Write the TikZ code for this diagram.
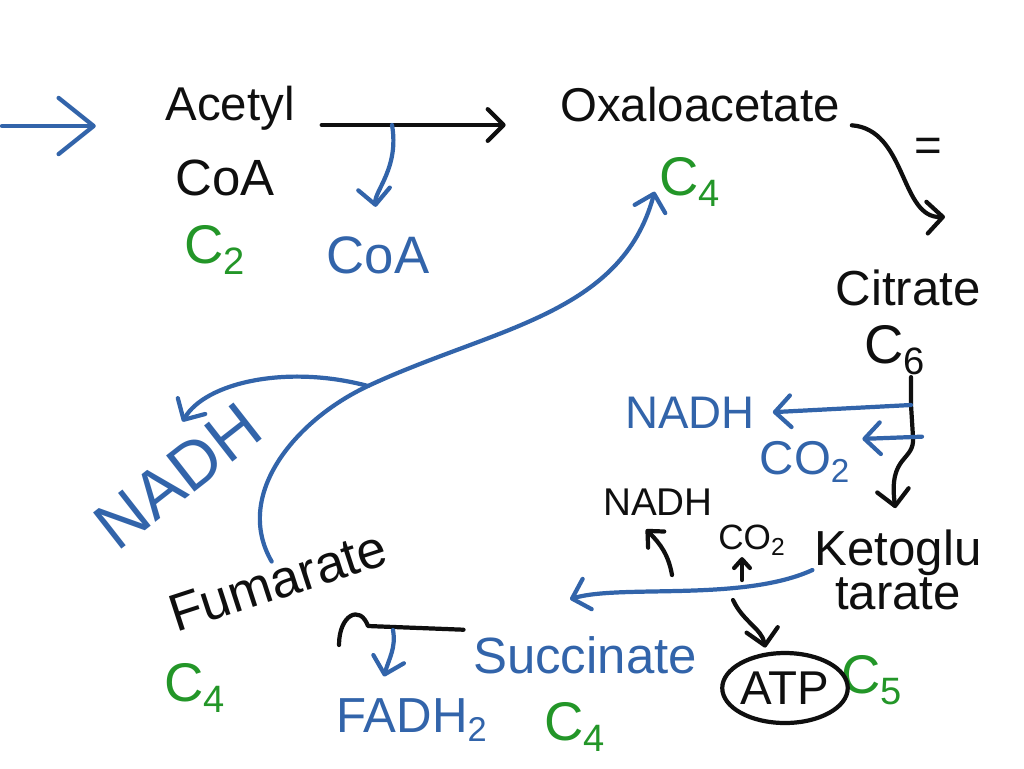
\documentclass[tikz,border=0pt]{standalone}
\usepackage{fontspec}
\setmainfont{Liberation Sans}
\usepackage{tikz}
\usetikzlibrary{arrows.meta, positioning, calc, shapes.geometric}
\definecolor{inkblue}{RGB}{50,100,170}
\definecolor{inkgreen}{RGB}{35,150,40}
\definecolor{inkdark}{RGB}{15,15,15}
\tikzset{
  mol/.style={font=\fontsize{27}{32}\selectfont, text=inkdark, inner sep=1pt},
  bluemol/.style={mol, text=inkblue},
  smallmol/.style={font=\fontsize{20}{24}\selectfont, text=inkdark, inner sep=1pt},
  carbon/.style={font=\fontsize{31}{34}\selectfont, text=inkgreen, inner sep=1pt},
  arrow/.style={-{Straight Barb[length=9pt, width=18pt, round]}, line width=2.4pt,
    color=inkdark, line cap=round, line join=round},
  bluearrow/.style={arrow, color=inkblue},
  smalltip/.style={-{Straight Barb[length=5pt, width=9pt, round]}},
  line/.style={line width=2.4pt, color=inkdark, line cap=round, line join=round}
}
\begin{document}
\begin{tikzpicture}[x=0.02cm, y=-0.02cm]
  \fill[white] (0,0) rectangle (1024,768);
  \useasboundingbox (0,0) rectangle (1024,768);

  % Molecules
  \node[mol, font=\fontsize{27}{30}\selectfont] (acetyl) at (230,108) {Acetyl};
  \node[mol, font=\fontsize{29}{32}\selectfont] (acoa) at (225,178) {CoA};
  \node[carbon] (ctwo) at (215,250) {C\textsubscript{2}};
  \node[bluemol, font=\fontsize{30}{32}\selectfont] (coa) at (378,255) {CoA};
  \node[mol] (oxalo) at (700,105) {Oxaloacetate};
  \node[carbon] (cfourA) at (690,182) {C\textsubscript{4}};
  \node[mol] (eq) at (928,150) {=};
  \node[mol, font=\fontsize{28}{32}\selectfont] (citrate) at (908,288) {Citrate};
  \node[carbon, text=inkdark] (csix) at (895,350) {C\textsubscript{6}};
  \node[bluemol, font=\fontsize{26}{30}\selectfont] (nadhA) at (690,413) {NADH};
  \node[bluemol] (cotwoA) at (805,462) {CO\textsubscript{2}};
  \node[mol, font=\fontsize{28}{22}\selectfont, align=center] (keto) at (898,570) {Ketoglu\\tarate};
  \node[carbon] (cfive) at (872,680) {C\textsubscript{5}};
  \node[mol, ellipse, draw=inkdark, line width=2.4pt, inner sep=0pt,
    minimum width=2.44cm, minimum height=1.4cm] (atp) at (785,688) {ATP};
  \node[smallmol, font=\fontsize{22}{24}\selectfont] (nadhB) at (658,502) {NADH};
  \node[smallmol] (cotwoB) at (752,540) {CO\textsubscript{2}};
  \node[bluemol, font=\fontsize{29}{32}\selectfont] (succ) at (585,655) {Succinate};
  \node[carbon] (cfourC) at (575,727) {C\textsubscript{4}};
  \node[bluemol, font=\fontsize{28}{32}\selectfont] (fadh) at (412,720) {FADH\textsubscript{2}};
  \node[mol, font=\fontsize{30}{34}\selectfont, rotate=18] (fum) at (278,581) {Fumarate};
  \node[carbon] (cfourB) at (195,688) {C\textsubscript{4}};
  \node[bluemol, font=\fontsize{38}{40}\selectfont, rotate=38] (nadhC) at (178,476) {NADH};

  % Entry and Acetyl CoA
  \coordinate (entry) at (2,126);
  \draw[bluearrow, -{Straight Barb[length=20pt, width=32pt, round]}, shorten >=1.35cm]
    (entry) -- (entry -| acetyl.west);
  \coordinate (jcoa) at (392,125);
  \draw[arrow, shorten <=0.5cm, shorten >=1.05cm] (acetyl.east |- jcoa) -- (oxalo.west |- jcoa);
  \draw[bluearrow, shorten >=0.55cm] (jcoa) to[out=-80, in=95] (coa.north);

  % Oxaloacetate to Citrate
  \draw[arrow, shorten <=0.2cm] (oxalo.south east) .. controls +(65,5) and +(-45,2) .. ($(citrate.north)+(37,-51)$);

  % Citrate to Ketoglutarate
  \coordinate (knadh) at (911,405);
  \coordinate (kco) at (913,437);
  \draw[arrow, shorten >=0.4cm] (csix.south -| knadh) -- (knadh) -- (kco)
    .. controls +(2,25) and +(-10,-74) .. (keto.north);
  \draw[bluearrow, shorten >=0.32cm] (knadh) -- (nadhA.east);
  \draw[bluearrow, shorten <=-0.18cm, shorten >=0.2cm] (kco) -- (cotwoA.north east);

  % Ketoglutarate to Succinate
  \draw[bluearrow] (keto.west) .. controls +(-70,32) and +(50,-15) .. ($(succ.north)+(-15,-35)$);
  \coordinate (bnadh) at (672,575);
  \draw[arrow, -{Straight Barb[length=7pt, width=13pt, round]}] (bnadh) to[out=100, in=-45] ($(nadhB.south)+(-12,12)$);
  \coordinate (bco) at (742,580);
  \draw[arrow, smalltip] (bco) -- (bco |- cotwoB.south);
  \coordinate (batp) at (733,600);
  \draw[arrow, shorten >=0.1cm] (batp) to[out=-65, in=100] (atp.118);

  % Succinate to Fumarate
  \coordinate (jfad) at (393,630);
  \coordinate (hook) at (339,645);
  \draw[line, shorten <=0.15cm] (succ.west |- jfad) -- ($(jfad)+(-25,-4)$)
    .. controls +(-8,-22) and +(0,-30) .. (hook);
  \draw[bluearrow] (jfad) to[out=-80, in=75] ($(fadh.north)+(-28,-20)$);

  % Fumarate to Oxaloacetate
  \coordinate (bfum) at (368,386);
  \draw[bluearrow, shorten >=0.2cm] (fum.north) to[out=120, in=205] (bfum) to[out=25, in=255] (cfourA.west);
  \draw[bluearrow, shorten >=0.8cm] (bfum) to[out=165, in=60] (nadhC.north);
\end{tikzpicture}
\end{document}
